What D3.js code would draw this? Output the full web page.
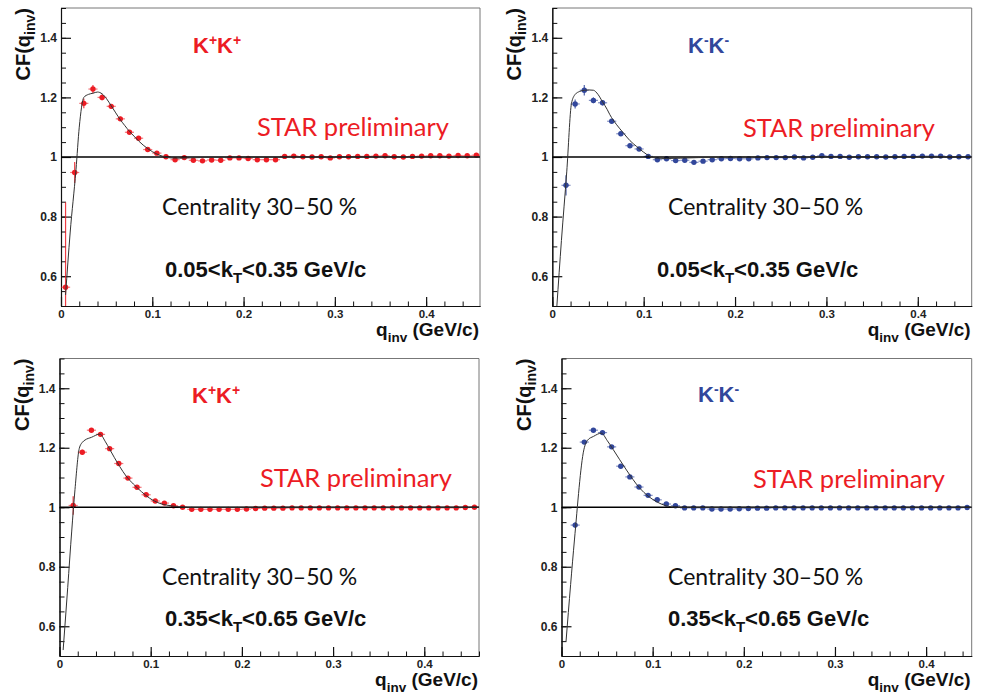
<!DOCTYPE html>
<html><head><meta charset="utf-8">
<script src="https://cdn.jsdelivr.net/npm/d3@7"></script>
<style>body{margin:0;background:#fff} svg{display:block}</style>
</head><body>
<svg id="c" width="988" height="696"></svg>
<script>
// ---------- DATA ----------
const qBins = [0.005,0.015,0.025,0.035,0.045,0.055,0.065,0.075,0.085,0.095,
  0.105,0.115,0.125,0.135,0.145,0.155,0.165,0.175,0.185,0.195,
  0.205,0.215,0.225,0.235,0.245,0.255,0.265,0.275,0.285,0.295,
  0.305,0.315,0.325,0.335,0.345,0.355,0.365,0.375,0.385,0.395,
  0.405,0.415,0.425,0.435,0.445,0.455];

// K+K+, 0.05<kT<0.35
const cfKpLow = [0.563,0.948,1.180,1.228,1.200,1.170,1.128,1.083,1.063,1.025,
  1.013,1.001,0.991,0.998,0.989,0.987,0.990,0.989,0.997,0.997,
  0.995,0.991,0.991,0.991,1.002,1.003,1.001,1.000,1.001,0.997,
  1.001,1.001,1.002,1.002,1.003,1.004,1.001,1.000,1.002,1.003,
  1.004,1.004,1.003,1.005,1.004,1.006];
const errKpLow = [0.285,0.035,0.016,0.014,0.010,0.008,0.007,0.006,0.006,0.005,
  0.005,0.004,0.004,0.004,0.004,0.003,0.003,0.003,0.003,0.003,
  0.003,0.003,0.003,0.003,0.003,0.003,0.003,0.003,0.003,0.003,
  0.003,0.003,0.003,0.003,0.003,0.003,0.003,0.003,0.003,0.003,
  0.003,0.003,0.003,0.003,0.003,0.003];
const fitKpLowQ = [0.005,0.010,0.0164,0.020,0.025,0.030,0.035,0.040,0.045,0.050,0.055,0.060,0.065,0.070,0.075,0.080,0.085,0.090,0.095,0.100,0.105,0.112,0.120,0.130,0.140,0.160,0.200,0.460];
const fitKpLowV = [0.537,0.745,0.957,1.100,1.200,1.210,1.214,1.218,1.212,1.195,1.172,1.148,1.125,1.105,1.086,1.070,1.054,1.040,1.028,1.018,1.010,1.002,0.997,0.996,0.997,0.999,1.000,1.000];

// K-K-, 0.05<kT<0.35
const cfKmLow = [null,0.905,1.178,1.224,1.190,1.182,1.120,1.078,1.038,1.027,
  1.002,0.991,0.994,0.988,0.989,0.982,0.986,0.991,0.994,0.995,
  0.994,0.994,0.997,0.998,0.998,0.998,1.000,0.997,0.999,1.004,
  1.002,1.002,0.999,1.001,1.001,1.001,1.000,1.001,1.002,1.002,
  1.003,1.003,1.003,1.000,1.001,1.001];
const errKmLow = [0,0.034,0.015,0.018,0.010,0.009,0.007,0.006,0.006,0.005,
  0.005,0.004,0.004,0.004,0.004,0.003,0.003,0.003,0.003,0.003,
  0.003,0.003,0.003,0.003,0.003,0.003,0.003,0.003,0.003,0.003,
  0.003,0.003,0.003,0.003,0.003,0.003,0.003,0.003,0.003,0.003,
  0.003,0.003,0.003,0.003,0.003,0.003];
const fitKmLowQ = [0.005,0.010,0.0158,0.021,0.025,0.030,0.035,0.040,0.045,0.050,0.055,0.060,0.063,0.070,0.078,0.085,0.092,0.100,0.107,0.115,0.125,0.140,0.160,0.200,0.460];
const fitKmLowV = [0.500,0.720,0.950,1.180,1.210,1.220,1.224,1.225,1.224,1.210,1.185,1.160,1.142,1.110,1.080,1.055,1.036,1.016,1.002,0.996,0.995,0.996,0.998,1.000,1.000];

// K+K+, 0.35<kT<0.65
const cfKpHigh = [null,1.006,1.185,1.259,1.245,1.197,1.147,1.098,1.067,1.042,
  1.021,1.014,1.005,1.000,0.993,0.993,0.993,0.993,0.993,0.993,
  0.994,0.996,0.997,0.997,0.997,0.998,0.998,0.998,0.998,0.998,
  0.998,0.998,0.998,0.998,0.998,0.998,0.998,0.998,0.998,0.998,
  0.998,0.998,0.998,0.998,0.999,1.000];
const errKpHigh = [0,0.031,0.008,0.006,0.006,0.005,0.005,0.004,0.004,0.004,
  0.003,0.003,0.003,0.003,0.003,0.003,0.003,0.003,0.002,0.002,
  0.002,0.002,0.002,0.002,0.002,0.002,0.002,0.002,0.002,0.002,
  0.002,0.002,0.002,0.002,0.002,0.002,0.002,0.002,0.002,0.002,
  0.002,0.002,0.002,0.002,0.002,0.002];
const fitKpHighQ = [0.004,0.009,0.0134,0.017,0.0217,0.025,0.028,0.035,0.0444,0.050,0.0554,0.060,0.066,0.073,0.081,0.090,0.099,0.110,0.1248,0.140,0.460];
const fitKpHighV = [0.520,0.730,0.920,1.060,1.198,1.218,1.226,1.235,1.246,1.222,1.193,1.168,1.137,1.105,1.078,1.052,1.030,1.013,1.004,1.000,1.000];

// K-K-, 0.35<kT<0.65
const cfKmHigh = [null,0.940,1.219,1.259,1.251,1.203,1.138,1.102,1.068,1.040,
  1.025,1.011,1.005,0.998,0.998,0.998,0.994,0.994,0.994,0.995,
  0.996,0.997,0.997,0.998,0.998,0.998,0.998,0.998,0.998,0.998,
  0.998,0.998,0.998,0.998,0.998,0.998,0.998,0.998,0.998,0.998,
  0.998,0.998,0.998,0.998,0.999,1.000];
const errKmHigh = [0,0.010,0.007,0.006,0.006,0.005,0.005,0.004,0.004,0.004,
  0.003,0.003,0.003,0.003,0.003,0.003,0.003,0.003,0.002,0.002,
  0.002,0.002,0.002,0.002,0.002,0.002,0.002,0.002,0.002,0.002,
  0.002,0.002,0.002,0.002,0.002,0.002,0.002,0.002,0.002,0.002,
  0.002,0.002,0.002,0.002,0.002,0.002];
const fitKmHighQ = [0.005,0.010,0.0142,0.0245,0.0288,0.035,0.0437,0.050,0.0565,0.0713,0.0859,0.104,0.126,0.140,0.460];
const fitKmHighV = [0.550,0.740,0.890,1.193,1.226,1.238,1.249,1.225,1.195,1.125,1.064,1.019,1.000,1.000,1.000];

const yMajor = [0.6,0.8,1.0,1.2,1.4];
const yMajorLabels = ["0.6","0.8","1","1.2","1.4"];
const xMajor = [0,0.1,0.2,0.3,0.4];
const xMajorLabels = ["0","0.1","0.2","0.3","0.4"];
const yDomain = [0.5,1.5];

const RED = "#ec1c24", BLUE = "#32479b";

const panels = [
  {box:{l:61,r:480,t:8,b:306}, xMax:0.459, cf:cfKpLow, err:errKpLow, fq:fitKpLowQ, fv:fitKpLowV,
   sign:"+", col:RED, kt:["0.05","0.35"],
   pairPos:[193,53], starPos:[257,136], centPos:[162,215], ktPos:[165,277]},
  {box:{l:552.3,r:971.7,t:8,b:306}, xMax:0.459, cf:cfKmLow, err:errKmLow, fq:fitKmLowQ, fv:fitKmLowV,
   sign:"-", col:BLUE, kt:["0.05","0.35"],
   pairPos:[688,53], starPos:[743,137], centPos:[668,215], ktPos:[657,277]},
  {box:{l:59.5,r:479,t:358.5,b:656}, xMax:0.46, cf:cfKpHigh, err:errKpHigh, fq:fitKpHighQ, fv:fitKpHighV,
   sign:"+", col:RED, kt:["0.35","0.65"],
   pairPos:[192,403], starPos:[260,487], centPos:[162,585], ktPos:[165,626]},
  {box:{l:561.5,r:971.7,t:358.5,b:656}, xMax:0.45, cf:cfKmHigh, err:errKmHigh, fq:fitKmHighQ, fv:fitKmHighV,
   sign:"-", col:BLUE, kt:["0.35","0.65"],
   pairPos:[698,402], starPos:[753,488], centPos:[668,585], ktPos:[668,626]}
];

// ---------- DRAW ----------
const svg = d3.select("#c");
const BOLD = "'Liberation Sans', Arial, Helvetica, sans-serif";
const HUM = "Lato, 'Open Sans', sans-serif";

panels.forEach((p, i) => {
  const b = p.box;
  const x = d3.scaleLinear().domain([0, p.xMax]).range([b.l, b.r]);
  const y = d3.scaleLinear().domain(yDomain).range([b.b, b.t]);
  const g = svg.append("g");

  const cid = "clip" + i;
  svg.append("clipPath").attr("id", cid).append("rect")
    .attr("x", b.l).attr("y", b.t).attr("width", b.r - b.l).attr("height", b.b - b.t);

  // frame top/right
  g.append("path").attr("d", `M${b.l},${b.t}H${b.r}V${b.b}`)
    .attr("fill", "none").attr("stroke", "#777").attr("stroke-width", 1);

  // minor ticks
  const xMinor = d3.range(0, p.xMax + 1e-9, 0.02);
  const yMinor = d3.range(0.5, 1.5001, 0.05);
  g.append("g").attr("transform", `translate(0,${b.b})`)
    .call(d3.axisBottom(x).tickValues(xMinor).tickSize(-4.5).tickSizeOuter(0).tickFormat(""))
    .call(s => s.selectAll("line,path").attr("stroke", "#111"));
  g.append("g").attr("transform", `translate(${b.l},0)`)
    .call(d3.axisLeft(y).tickValues(yMinor).tickSize(-5).tickSizeOuter(0).tickFormat(""))
    .call(s => s.selectAll("line,path").attr("stroke", "#111"));
  // major ticks
  g.append("g").attr("transform", `translate(0,${b.b})`)
    .call(d3.axisBottom(x).tickValues(xMajor).tickSize(-9).tickSizeOuter(0).tickPadding(4)
      .tickFormat((d, k) => xMajorLabels[k]))
    .call(s => { s.selectAll("line,path").attr("stroke", "#111").attr("stroke-width", 1.2);
      s.selectAll("text").attr("font-family", BOLD).attr("font-weight", "bold")
        .attr("font-size", 11.5).attr("fill", "#222").attr("y", 3.5); });
  g.append("g").attr("transform", `translate(${b.l},0)`)
    .call(d3.axisLeft(y).tickValues(yMajor).tickSize(-10).tickSizeOuter(0).tickPadding(4)
      .tickFormat((d, k) => yMajorLabels[k]))
    .call(s => { s.selectAll("line,path").attr("stroke", "#111").attr("stroke-width", 1.2);
      s.selectAll("text").attr("font-family", BOLD).attr("font-weight", "bold")
        .attr("font-size", 12).attr("fill", "#222"); });

  // axis titles
  const yt = g.append("text").attr("transform", `translate(${b.l - 31},${b.t}) rotate(-90)`)
    .attr("text-anchor", "end").attr("font-family", BOLD).attr("font-weight", "bold")
    .attr("font-size", 20).attr("fill", "#111");
  yt.append("tspan").text("CF(q");
  yt.append("tspan").attr("font-size", 14).attr("dy", 5).text("inv");
  yt.append("tspan").attr("dy", -5).text(")");

  const xt = g.append("text").attr("x", b.r - 1).attr("y", b.b + 30)
    .attr("text-anchor", "end").attr("font-family", BOLD).attr("font-weight", "bold")
    .attr("font-size", 19).attr("fill", "#111");
  xt.append("tspan").text("q");
  xt.append("tspan").attr("font-size", 13.5).attr("dy", 6).text("inv");
  xt.append("tspan").attr("dy", -6).text(" (GeV/c)");

  // data
  const pts = qBins.map((q, k) => ({q, v: p.cf[k], e: p.err[k]})).filter(d => d.v !== null);
  const dg = g.append("g").attr("clip-path", `url(#${cid})`);
  dg.selectAll("line.ey").data(pts).join("line").attr("class", "ey")
    .attr("x1", d => x(d.q)).attr("x2", d => x(d.q))
    .attr("y1", d => y(d.v - d.e)).attr("y2", d => y(d.v + d.e))
    .attr("stroke", p.col).attr("stroke-width", 1.2).attr("opacity", 0.85);
  dg.selectAll("line.ex").data(pts).join("line").attr("class", "ex")
    .attr("x1", d => x(d.q - 0.005)).attr("x2", d => x(d.q + 0.005))
    .attr("y1", d => y(d.v)).attr("y2", d => y(d.v))
    .attr("stroke", p.col).attr("stroke-width", 1.2).attr("opacity", 0.6);
  dg.selectAll("circle").data(pts).join("circle")
    .attr("cx", d => x(d.q)).attr("cy", d => y(d.v)).attr("r", 2.7).attr("fill", p.col);

  // unity line
  dg.append("line").attr("x1", b.l).attr("x2", b.r).attr("y1", y(1)).attr("y2", y(1))
    .attr("stroke", "#000").attr("stroke-width", 1.6);

  // fit
  const fit = p.fq.map((q, k) => [q, p.fv[k]]);
  dg.append("path").datum(fit)
    .attr("d", d3.line().x(d => x(d[0])).y(d => y(d[1])).curve(d3.curveMonotoneX))
    .attr("fill", "none").attr("stroke", "#333").attr("stroke-width", 1);

  // annotations
  const pair = g.append("text").attr("x", p.pairPos[0]).attr("y", p.pairPos[1])
    .attr("font-family", BOLD).attr("font-weight", "bold").attr("font-size", 22).attr("fill", p.col);
  pair.append("tspan").text("K");
  pair.append("tspan").attr("font-size", 14).attr("dy", -8).text(p.sign);
  pair.append("tspan").attr("dy", 8).text("K");
  pair.append("tspan").attr("font-size", 14).attr("dy", -8).text(p.sign);

  g.append("text").attr("x", p.starPos[0]).attr("y", p.starPos[1])
    .attr("font-family", HUM).attr("font-size", 25.5).attr("fill", RED).text("STAR preliminary");
  g.append("text").attr("x", p.centPos[0]).attr("y", p.centPos[1])
    .attr("font-family", HUM).attr("font-size", 23).attr("fill", "#111").text("Centrality 30\u201350 %");

  const kt = g.append("text").attr("x", p.ktPos[0]).attr("y", p.ktPos[1])
    .attr("font-family", BOLD).attr("font-weight", "bold").attr("font-size", 22).attr("fill", "#111");
  kt.append("tspan").text(p.kt[0] + "<k");
  kt.append("tspan").attr("font-size", 15).attr("dy", 6).text("T");
  kt.append("tspan").attr("dy", -6).text("<" + p.kt[1] + " GeV/c");
});
</script>
</body></html>
